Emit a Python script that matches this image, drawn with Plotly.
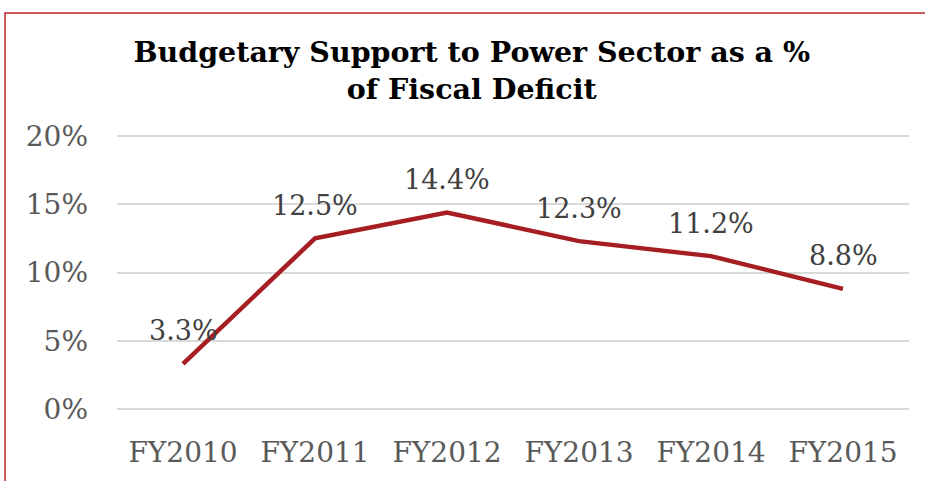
import plotly.graph_objects as go

# Budgetary support to the power sector, share of fiscal deficit (%)
years = ["FY2010", "FY2011", "FY2012", "FY2013", "FY2014", "FY2015"]
share_pct = [3.3, 12.5, 14.4, 12.3, 11.2, 8.8]
y_ticks = [0, 5, 10, 15, 20]
y_tick_labels = ["0%", "5%", "10%", "15%", "20%"]

LINE_RED = "#a61e22"
BORDER_RED = "#b8262c"
TICK_GREY = "#595959"
SERIF = "DejaVu Serif"

fig = go.Figure()
fig.add_trace(go.Scatter(
    x=years, y=share_pct, mode="lines",
    line=dict(color=LINE_RED, width=4.5),
    hoverinfo="skip", showlegend=False,
))

# value labels above each point
for yr, v in zip(years, share_pct):
    fig.add_annotation(
        x=yr, y=v, text=f"{v:.1f}%", showarrow=False,
        yshift=33, font=dict(family=SERIF, size=27, color="#404040"),
    )

# chart frame
fig.add_shape(
    type="rect", xref="paper", yref="paper",
    x0=-0.1414, x1=1.0240, y0=-0.28, y1=1.437,
    line=dict(color=BORDER_RED, width=1.5), fillcolor="rgba(0,0,0,0)",
    layer="below",
)

fig.update_layout(
    width=925, height=481,
    margin=dict(l=117, r=16, t=134, b=68),
    paper_bgcolor="white", plot_bgcolor="white",
    title=dict(
        text="Budgetary Support to Power Sector as a %<br>of Fiscal Deficit",
        x=0.51, xanchor="center", y=0.871, yanchor="middle",
        font=dict(family="DejaVu Serif", size=28.5, color="black", weight="bold"),
    ),
    xaxis=dict(
        range=[-0.5, 5.5],
        showgrid=False, zeroline=False, showline=False, ticks="",
        tickfont=dict(family=SERIF, size=28, color=TICK_GREY),
        ticklabelstandoff=22,
    ),
    yaxis=dict(
        range=[-0.15, 20.15], tickvals=y_ticks, ticktext=y_tick_labels,
        showgrid=True, gridcolor="#d9d9d9", gridwidth=1.5,
        zeroline=False, showline=False, ticks="",
        tickfont=dict(family=SERIF, size=28, color=TICK_GREY),
        ticklabelstandoff=28,
    ),
)

fig.write_html("out.html")
